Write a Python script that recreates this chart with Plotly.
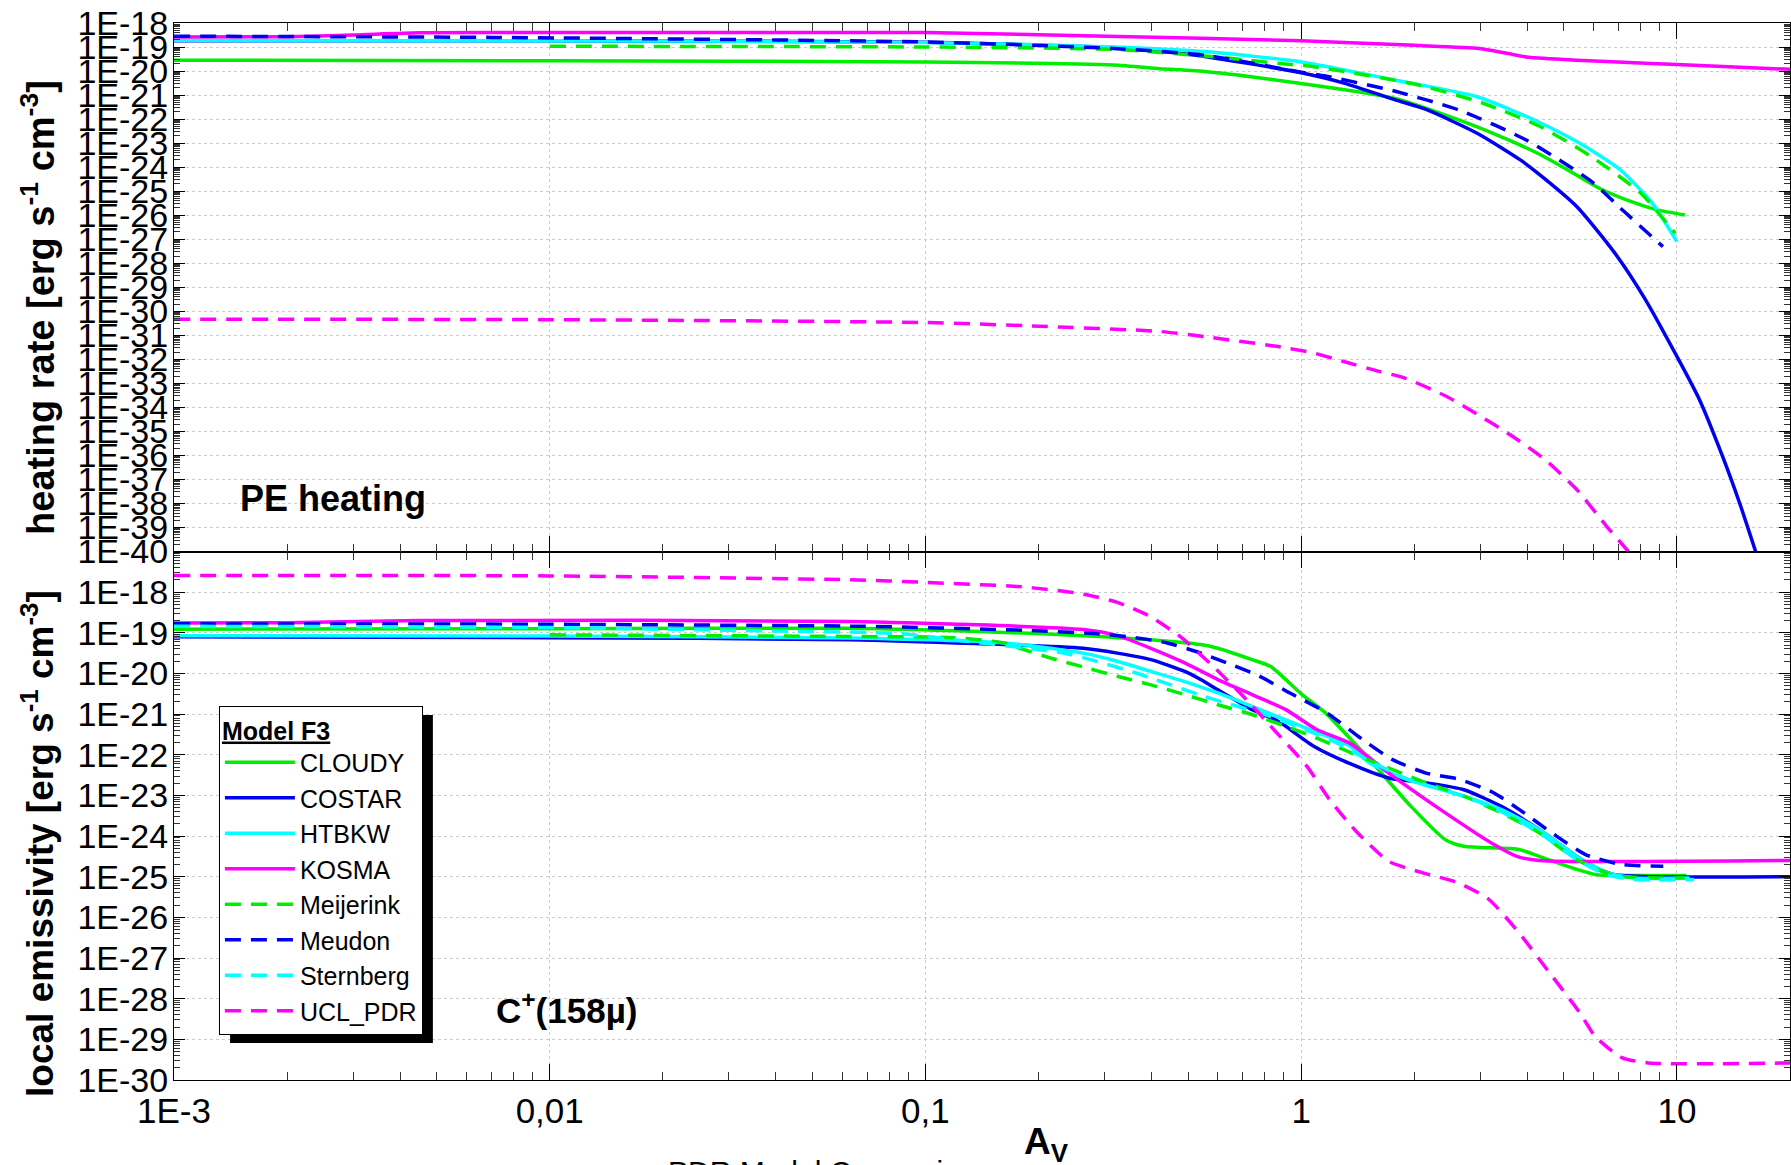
import numpy as np
import plotly.graph_objects as go

# ---------------- data (A_V and log10 of value) ----------------
# Top panel: PE heating rate
cloudy_top_av = [0.001, 0.01, 0.1, 0.316, 0.42, 0.562, 1.0, 1.78, 2.94, 3.6, 4.27, 4.86, 6.25, 7.6, 8.85, 10.5]
cloudy_top = [-19.55, -19.57, -19.62, -19.75, -19.9, -20.03, -20.52, -21.14, -22.32, -22.9, -23.43, -23.91, -24.9, -25.45, -25.78, -25.99]

costar_top_av = [0.001, 0.01, 0.1, 0.3, 0.5, 0.7, 1.0, 1.3, 1.78, 2.15, 2.94, 3.83, 4.27, 5.42, 6.83, 8.2, 10.0, 11.5, 13.2, 14.7, 16.2]
costar_top = [-18.74, -18.74, -18.80, -19.02, -19.30, -19.65, -20.07, -20.5, -21.2, -21.6, -22.59, -23.7, -24.26, -25.65, -27.57, -29.45, -31.88, -33.7, -36.0, -38.0, -40.0]

htbkw_top_av = [0.001, 0.01, 0.1, 0.316, 0.562, 1.0, 1.78, 2.94, 4.27, 5.5, 7.08, 8.6, 10.0]
htbkw_top = [-18.72, -18.74, -18.81, -19.0, -19.2, -19.62, -20.38, -21.07, -22.11, -23.0, -24.12, -25.5, -27.1]

kosma_top_av = [0.001, 0.002, 0.003, 0.0045, 0.01, 0.1, 0.23, 0.54, 1.0, 2.0, 2.98, 3.5, 4.03, 5.42, 7.2, 10.0, 20.0]
kosma_top = [-18.58, -18.57, -18.5, -18.41, -18.40, -18.40, -18.51, -18.64, -18.74, -18.93, -19.06, -19.25, -19.43, -19.55, -19.63, -19.73, -19.93]

meijerink_top_av = [0.01, 0.1, 0.316, 0.6, 0.88, 1.08, 2.0, 3.01, 4.34, 5.93, 8.02, 9.9]
meijerink_top = [-18.97, -19.0, -19.1, -19.42, -19.69, -19.82, -20.54, -21.31, -22.32, -23.57, -25.09, -26.76]

meudon_top_av = [0.001, 0.007, 0.1, 0.316, 0.56, 1.0, 1.16, 1.76, 2.66, 3.97, 5.93, 7.24, 9.18]
meudon_top = [-18.55, -18.6, -18.79, -19.06, -19.35, -20.05, -20.21, -20.82, -21.65, -22.87, -24.6, -25.85, -27.31]

ucl_top_av = [0.001, 0.01, 0.1, 0.2, 0.42, 0.56, 0.86, 1.08, 1.29, 1.61, 1.88, 2.44, 2.95, 3.6, 4.46, 5.42, 6.5, 7.43]
ucl_top = [-30.33, -30.35, -30.47, -30.62, -30.84, -31.07, -31.46, -31.74, -32.08, -32.5, -32.77, -33.55, -34.3, -35.14, -36.18, -37.43, -38.95, -40.0]

# Bottom panel: C+ (158 micron) local emissivity
cloudy_bot_av = [0.001, 0.01, 0.063, 0.162, 0.263, 0.398, 0.54, 0.60, 0.74, 0.83, 1.0, 1.16, 1.52, 1.96, 2.42, 2.71, 3.8, 4.3, 5.42, 6.1, 7.0, 10.6]
cloudy_bot = [-18.91, -18.90, -18.89, -18.99, -19.07, -19.17, -19.29, -19.38, -19.66, -19.83, -20.5, -20.97, -22.12, -23.27, -24.09, -24.25, -24.33, -24.5, -24.82, -24.95, -24.97, -24.97]

costar_bot_av = [0.001, 0.01, 0.063, 0.263, 0.324, 0.398, 0.49, 0.54, 0.60, 0.74, 0.855, 0.91, 1.08, 1.35, 1.71, 2.15, 2.71, 3.41, 4.3, 5.42, 6.1, 6.82, 8.57, 20.0]
costar_bot = [-19.10, -19.12, -19.17, -19.38, -19.5, -19.66, -19.95, -20.15, -20.4, -20.89, -21.14, -21.3, -21.79, -22.22, -22.57, -22.69, -22.86, -23.27, -23.84, -24.5, -24.78, -24.95, -25.0, -25.0]

htbkw_bot_av = [0.001, 0.01, 0.063, 0.162, 0.263, 0.324, 0.398, 0.49, 0.60, 0.74, 0.91, 1.1, 1.35, 1.52, 1.92, 2.71, 3.41, 4.3, 5.42, 6.53, 7.69, 10.8]
htbkw_bot = [-19.07, -19.08, -19.13, -19.25, -19.5, -19.7, -19.95, -20.2, -20.48, -20.81, -21.14, -21.45, -21.79, -22.2, -22.61, -23.02, -23.35, -23.84, -24.5, -24.9, -25.03, -25.03]

kosma_bot_av = [0.001, 0.002, 0.0045, 0.063, 0.263, 0.324, 0.398, 0.49, 0.60, 0.74, 0.91, 1.1, 1.35, 1.71, 2.42, 3.26, 3.75, 4.3, 20.0]
kosma_bot = [-18.76, -18.75, -18.70, -18.72, -18.92, -19.07, -19.38, -19.74, -20.15, -20.52, -20.89, -21.38, -21.72, -22.45, -23.43, -24.21, -24.5, -24.6, -24.6]

meijerink_bot_av = [0.01, 0.063, 0.12, 0.162, 0.178, 0.215, 0.263, 0.324, 0.398, 0.49, 0.60, 0.74, 0.91, 1.1, 1.35, 2.15, 2.71, 3.41, 4.3, 5.42, 6.82, 10.5]
meijerink_bot = [-19.05, -19.09, -19.12, -19.25, -19.38, -19.62, -19.84, -20.07, -20.28, -20.52, -20.77, -21.01, -21.3, -21.59, -21.94, -22.69, -23.02, -23.43, -23.92, -24.58, -24.97, -25.03]

meudon_bot_av = [0.001, 0.01, 0.068, 0.186, 0.28, 0.35, 0.44, 0.525, 0.634, 0.776, 0.933, 1.17, 1.42, 1.75, 2.15, 2.65, 3.26, 3.92, 4.71, 5.73, 7.13, 9.2]
meudon_bot = [-18.78, -18.79, -18.84, -18.94, -19.02, -19.1, -19.25, -19.46, -19.74, -20.07, -20.48, -20.97, -21.55, -22.12, -22.45, -22.61, -22.94, -23.43, -23.96, -24.46, -24.7, -24.74]

sternberg_bot_av = [0.001, 0.01, 0.03, 0.085, 0.129, 0.24, 0.358, 0.55, 0.83, 1.22, 1.52, 1.92, 2.71, 3.41, 4.3, 5.42, 6.5, 7.69, 11.1]
sternberg_bot = [-18.84, -18.87, -18.94, -19.02, -19.21, -19.52, -19.97, -20.56, -21.06, -21.67, -22.15, -22.6, -23.02, -23.4, -23.92, -24.58, -24.95, -25.07, -25.07]

ucl_bot_av = [0.001, 0.01, 0.066, 0.1, 0.175, 0.215, 0.264, 0.324, 0.393, 0.476, 0.59, 0.716, 0.861, 1.035, 1.19, 1.40, 1.71, 2.1, 2.62, 3.16, 3.8, 4.58, 5.52, 6.05, 7.13, 8.4, 20.0]
ucl_bot = [-17.59, -17.60, -17.70, -17.76, -17.86, -17.94, -18.05, -18.25, -18.58, -19.09, -19.87, -20.65, -21.46, -22.28, -23.1, -23.88, -24.62, -24.9, -25.15, -25.56, -26.38, -27.36, -28.35, -28.92, -29.45, -29.58, -29.58]

# ticks
x_tickvals = [0.001, 0.01, 0.1, 1, 10]
x_ticktext = ["1E-3", "0,01", "0,1", "1", "10"]
top_exponents = list(range(-18, -41, -1))
bot_exponents = list(range(-18, -31, -1))

# ---------------- styles ----------------
GREEN, BLUE, CYAN, MAGENTA = "#00ee00", "#0000f0", "#00ffff", "#ff00ff"
DASH = "16px,10px"
models = [
    ("CLOUDY", GREEN, "solid", (cloudy_top_av, cloudy_top), (cloudy_bot_av, cloudy_bot)),
    ("COSTAR", BLUE, "solid", (costar_top_av, costar_top), (costar_bot_av, costar_bot)),
    ("HTBKW", CYAN, "solid", (htbkw_top_av, htbkw_top), (htbkw_bot_av, htbkw_bot)),
    ("KOSMA", MAGENTA, "solid", (kosma_top_av, kosma_top), (kosma_bot_av, kosma_bot)),
    ("Meijerink", GREEN, DASH, (meijerink_top_av, meijerink_top), (meijerink_bot_av, meijerink_bot)),
    ("Meudon", BLUE, DASH, (meudon_top_av, meudon_top), (meudon_bot_av, meudon_bot)),
    ("Sternberg", CYAN, DASH, None, (sternberg_bot_av, sternberg_bot)),
    ("UCL_PDR", MAGENTA, DASH, (ucl_top_av, ucl_top), (ucl_bot_av, ucl_bot)),
]

fig = go.Figure()
for name, color, dash, top, bot in models:
    line = dict(color=color, width=3.5, dash=dash, shape="spline", smoothing=0.6)
    fig.add_trace(go.Scatter(x=bot[0], y=np.power(10.0, bot[1]), mode="lines", name=name,
                             legendgroup=name, line=line, xaxis="x", yaxis="y"))
    if top is not None:
        fig.add_trace(go.Scatter(x=top[0], y=np.power(10.0, top[1]), mode="lines", name=name,
                                 legendgroup=name, showlegend=False, line=line,
                                 xaxis="x2", yaxis="y2"))

FONT = "Arial, Liberation Sans, sans-serif"

def minor_vals(exps_lo, exps_hi, upper=None):
    vals = []
    for e in range(exps_lo, exps_hi):
        for d in range(2, 10):
            v = d * 10.0 ** e
            if upper is None or v <= upper:
                vals.append(v)
    return vals

xcommon = dict(type="log", range=[-3, np.log10(20)], showline=True, linecolor="black", linewidth=1,
               mirror="allticks", ticks="inside", ticklen=16, tickcolor="black", tickwidth=1,
               showgrid=True, gridcolor="#cccccc", griddash="dot", gridwidth=1, zeroline=False,
               tickvals=x_tickvals, automargin=False,
               minor=dict(tickmode="array", tickvals=minor_vals(-3, 2, 20), ticks="inside",
                          ticklen=8, tickcolor="#333333", showgrid=False))

ycommon = dict(type="log", showline=True, linecolor="black", linewidth=1, mirror="allticks",
               ticks="inside", ticklen=11, tickcolor="black", tickwidth=1, automargin=False,
               showgrid=True, gridcolor="#cccccc", griddash="dot", gridwidth=1, zeroline=False,
               tickfont=dict(family=FONT, size=34, color="black"), ticklabelstandoff=0)

fig.update_layout(
    width=1791, height=1165,
    margin=dict(l=174, r=1, t=23, b=85, autoexpand=False),
    paper_bgcolor="white", plot_bgcolor="white",
    font=dict(family=FONT, color="black"),
    xaxis=dict(**xcommon, anchor="y", domain=[0, 1], ticktext=x_ticktext,
               tickfont=dict(family=FONT, size=35, color="black"), ticklabelstandoff=0),
    xaxis2=dict(**xcommon, anchor="y2", matches="x", showticklabels=False),
    yaxis=dict(**ycommon, domain=[0, 0.5], range=[-30, -17],
               tickvals=[10.0 ** e for e in bot_exponents],
               ticktext=["1E%d" % e for e in bot_exponents],
               minor=dict(tickmode="array", tickvals=minor_vals(-30, -17), ticks="inside",
                          ticklen=6, tickcolor="#333333", showgrid=False)),
    yaxis2=dict(**ycommon, domain=[0.5, 1], range=[-40, -18],
                tickvals=[10.0 ** e for e in top_exponents],
                ticktext=["1E%d" % e for e in top_exponents],
                minor=dict(tickmode="array", tickvals=minor_vals(-40, -18), ticks="inside",
                           ticklen=6, tickcolor="#333333", showgrid=False)),
    showlegend=True,
    legend=dict(x=0.0278, y=0.3538, xanchor="left", yanchor="top",
                bgcolor="white", bordercolor="black", borderwidth=1,
                font=dict(family=FONT, size=25, color="black"),
                title=dict(text="<b><u>Model F3</u></b>", font=dict(family=FONT, size=25)),
                itemwidth=70, tracegroupgap=0),
    shapes=[dict(type="rect", xref="paper", yref="paper", x0=0.0347, x1=0.1602, y0=0.035, y1=0.3453,
                 fillcolor="black", line=dict(width=0), layer="above")],
    annotations=[
        dict(text="<b>heating rate [erg s<sup>-1</sup> cm<sup>-3</sup>]</b>", xref="paper", yref="paper",
             x=-0.0842, y=0.7313, xanchor="center", yanchor="middle", textangle=-90, showarrow=False,
             font=dict(family=FONT, size=38)),
        dict(text="<b>local emissivity [erg s<sup>-1</sup> cm<sup>-3</sup>]</b>", xref="paper", yref="paper",
             x=-0.0842, y=0.2242, xanchor="center", yanchor="middle", textangle=-90, showarrow=False,
             font=dict(family=FONT, size=37)),
        dict(text="<b>PE heating</b>", xref="paper", yref="paper", x=0.0396, y=0.5497,
             xanchor="left", yanchor="middle", showarrow=False, font=dict(family=FONT, size=36)),
        dict(text="<b>C<sup>+</sup>(158µ)</b>", xref="paper", yref="paper", x=0.198, y=0.068,
             xanchor="left", yanchor="middle", showarrow=False, font=dict(family=FONT, size=35)),
        dict(text="<b>A<sub>V</sub></b>", xref="paper", yref="paper", x=0.5248, y=-0.037,
             xanchor="left", yanchor="top", showarrow=False, font=dict(family=FONT, size=37)),
        dict(text="PDR Model Comparison", xref="paper", yref="paper", x=0.3045, y=-0.0695,
             xanchor="left", yanchor="top", showarrow=False, font=dict(family=FONT, size=30)),
    ],
)

# pull the y tick labels a little closer to the axis, if the installed plotly accepts it
try:
    fig.update_yaxes(ticklabelstandoff=-2)
except ValueError:
    pass

fig.write_html("out.html", config={"displayModeBar": False},
               post_script="document.body.style.margin='0px';document.body.style.overflow='hidden';")
